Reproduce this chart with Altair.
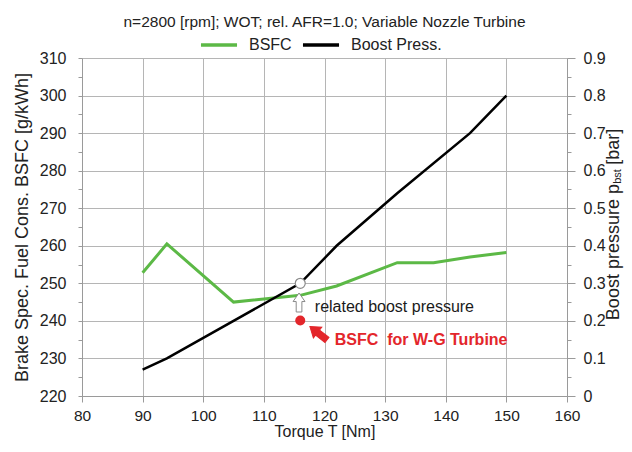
import altair as alt
import pandas as pd

# ---------------- data ----------------
bsfc_torque = [90, 94, 105, 116, 122, 132, 138, 144, 150]
bsfc_values = [252.8, 260.5, 245.0, 246.8, 249.3, 255.5, 255.5, 257.0, 258.2]
boost_torque = [90, 94, 116, 122, 132, 144, 150]
boost_values = [0.07, 0.10, 0.30, 0.40, 0.54, 0.70, 0.80]
series_names = ["BSFC", "Boost Press."]
series_colors = ["#5cb946", "#000000"]

x_ticks = [80, 90, 100, 110, 120, 130, 140, 150, 160]
left_ticks = [220 + 5 * i for i in range(19)]
right_ticks = [round(0.05 * i, 2) for i in range(19)]

wg_torque = [116]
wg_bsfc = [240.1]
related_torque = [116]
related_boost = [0.30]

note1_text = ["related boost pressure"]
note1_torque = [118.4]
note1_bsfc = [243.7]
note2_text = ["BSFC\u00a0 for W-G Turbine"]
note2_torque = [121.7]
note2_bsfc = [234.9]

arrow_torque = [115.8, 119.0]
arrow_bsfc = [244.9, 236.7]
arrow_angle = [0, 308]
arrow_fill = ["#ffffff", "#e3262b"]
arrow_stroke = ["#8a8a8a", "#e3262b"]
arrow_size = [361, 470]

rtitle_texts = ["Boost pressure p", "bst", "[bar]"]
rtitle_torque = [168.55, 168.95, 168.55]
rtitle_bsfc = [240.2, 276.5, 281.6]
rtitle_size = [18, 11, 18]

# ---------------- frames ----------------
df_bsfc = pd.DataFrame({"torque": bsfc_torque, "value": bsfc_values, "series": "BSFC"})
df_boost = pd.DataFrame({"torque": boost_torque, "value": boost_values, "series": "Boost Press."})
df_wg = pd.DataFrame({"torque": wg_torque, "value": wg_bsfc})
df_rel = pd.DataFrame({"torque": related_torque, "value": related_boost})
df_n1 = pd.DataFrame({"torque": note1_torque, "value": note1_bsfc, "text": note1_text})
df_n2 = pd.DataFrame({"torque": note2_torque, "value": note2_bsfc, "text": note2_text})
df_arrows = pd.DataFrame({"torque": arrow_torque, "value": arrow_bsfc, "angle": arrow_angle,
                          "fill": arrow_fill, "stroke": arrow_stroke, "size": arrow_size})
df_rt = pd.DataFrame({"torque": rtitle_torque, "value": rtitle_bsfc, "text": rtitle_texts,
                      "fs": rtitle_size})

FONT = "Liberation Sans"
GRID = "#b5b5b5"
AX = "#9a9a9a"

X = alt.X("torque:Q",
          scale=alt.Scale(domain=[80, 160], nice=False, zero=False),
          axis=alt.Axis(values=x_ticks, grid=True, gridColor=GRID, tickSize=6,
                        labelPadding=6, labelFontSize=15.5, labelFlush=False,
                        titleFontSize=16, titlePadding=0, titleFontWeight="normal",
                        labelColor="#222222", titleColor="#222222", labelFont=FONT,
                        titleFont=FONT, domainColor=AX, tickColor=AX),
          title="Torque T [Nm]")

left_axis = alt.Axis(values=left_ticks, orient="left", grid=True, gridColor=GRID,
                     gridOpacity={"condition": {"test": "datum.value % 10 != 0", "value": 0}, "value": 1},
                     tickSize=4, labelPadding=12, labelFontSize=16, labelFont=FONT,
                     labelExpr="datum.value % 10 == 0 ? datum.label : ''",
                     titleFontSize=18, titleFont=FONT, titleFontWeight="normal",
                     titlePadding=8, labelColor="#222222", titleColor="#222222",
                     domainColor=AX, tickColor=AX)
YL = alt.Y("value:Q", scale=alt.Scale(domain=[220, 310], nice=False, zero=False),
           axis=left_axis, title="Brake Spec. Fuel Cons. BSFC [g/kWh]")

right_axis = alt.Axis(values=right_ticks, orient="right", grid=False,
                      tickSize={"condition": {"test": "abs(datum.value*10 - round(datum.value*10)) > 0.001", "value": 4}, "value": 8},
                      labelExpr="abs(datum.value*10 - round(datum.value*10)) < 0.001 ? datum.label : ''",
                      format=".1~f", labelPadding=8, labelFontSize=16, labelFont=FONT,
                      labelColor="#222222", domainColor=AX, tickColor=AX)
YR = alt.Y("value:Q", scale=alt.Scale(domain=[0, 0.9], nice=False, zero=False),
           axis=right_axis, title=None)

C = alt.Color("series:N", scale=alt.Scale(domain=series_names, range=series_colors),
              legend=alt.Legend(orient="none", legendX=117, legendY=-33, direction="horizontal",
                                title=None, symbolType="stroke", symbolSize=1300,
                                symbolStrokeWidth=3.5, labelFontSize=16, labelFont=FONT,
                                labelColor="#222222", columnPadding=3, labelOffset=10, padding=0))

arrow_path = "M0,-1 L0.63,-0.1 L0.3,-0.1 L0.3,1 L-0.3,1 L-0.3,-0.1 L-0.63,-0.1 Z"

green = alt.Chart(df_bsfc).mark_line(strokeWidth=3).encode(x=X, y=YL, color=C)
wg = alt.Chart(df_wg).mark_point(filled=True, size=100, color="#e3262b", opacity=1).encode(x=X, y=YL)
note1 = alt.Chart(df_n1).mark_text(align="left", baseline="middle", fontSize=16, font=FONT,
                                   color="#1a1a1a").encode(x=X, y=YL, text="text:N")
note2 = alt.Chart(df_n2).mark_text(align="left", baseline="middle", fontSize=16, font=FONT,
                                   fontWeight="bold", color="#e3262b").encode(x=X, y=YL, text="text:N")
arrows = alt.Chart(df_arrows).mark_point(shape=arrow_path, filled=True, opacity=1, strokeWidth=1).encode(
    x=X, y=YL,
    angle=alt.Angle("angle:Q", scale=None),
    fill=alt.Fill("fill:N", scale=None),
    stroke=alt.Stroke("stroke:N", scale=None),
    size=alt.Size("size:Q", scale=None))
rtitle = alt.Chart(df_rt).mark_text(align="left", baseline="alphabetic", angle=270, font=FONT,
                                    color="#222222").encode(
    x=X, y=YL, text="text:N", size=alt.Size("fs:Q", scale=None))

left = alt.layer(green, wg, arrows, note1, note2, rtitle)

black = alt.Chart(df_boost).mark_line(strokeWidth=2.5).encode(x=X, y=YR, color=C)
circ = alt.Chart(df_rel).mark_point(shape="circle", filled=True, fill="#ffffff", stroke="#8a8a8a",
                                    strokeWidth=1.2, size=100, opacity=1).encode(x=X, y=YR)
right = alt.layer(black, circ)

chart = alt.layer(left, right).resolve_scale(y="independent").properties(
    width=485, height=338,
    background="white",
    title=alt.TitleParams("n=2800 [rpm]; WOT; rel. AFR=1.0; Variable Nozzle Turbine",
                          fontSize=15.5, fontWeight="normal", font=FONT, anchor="middle",
                          color="#222222", offset=-5),
    autosize=alt.AutoSizeParams(type="none"),
    padding={"left": 74, "top": 50, "right": 57, "bottom": 48},
).configure_view(stroke=None)

chart.save("out.html", embed_options={"renderer": "svg", "actions": False})
